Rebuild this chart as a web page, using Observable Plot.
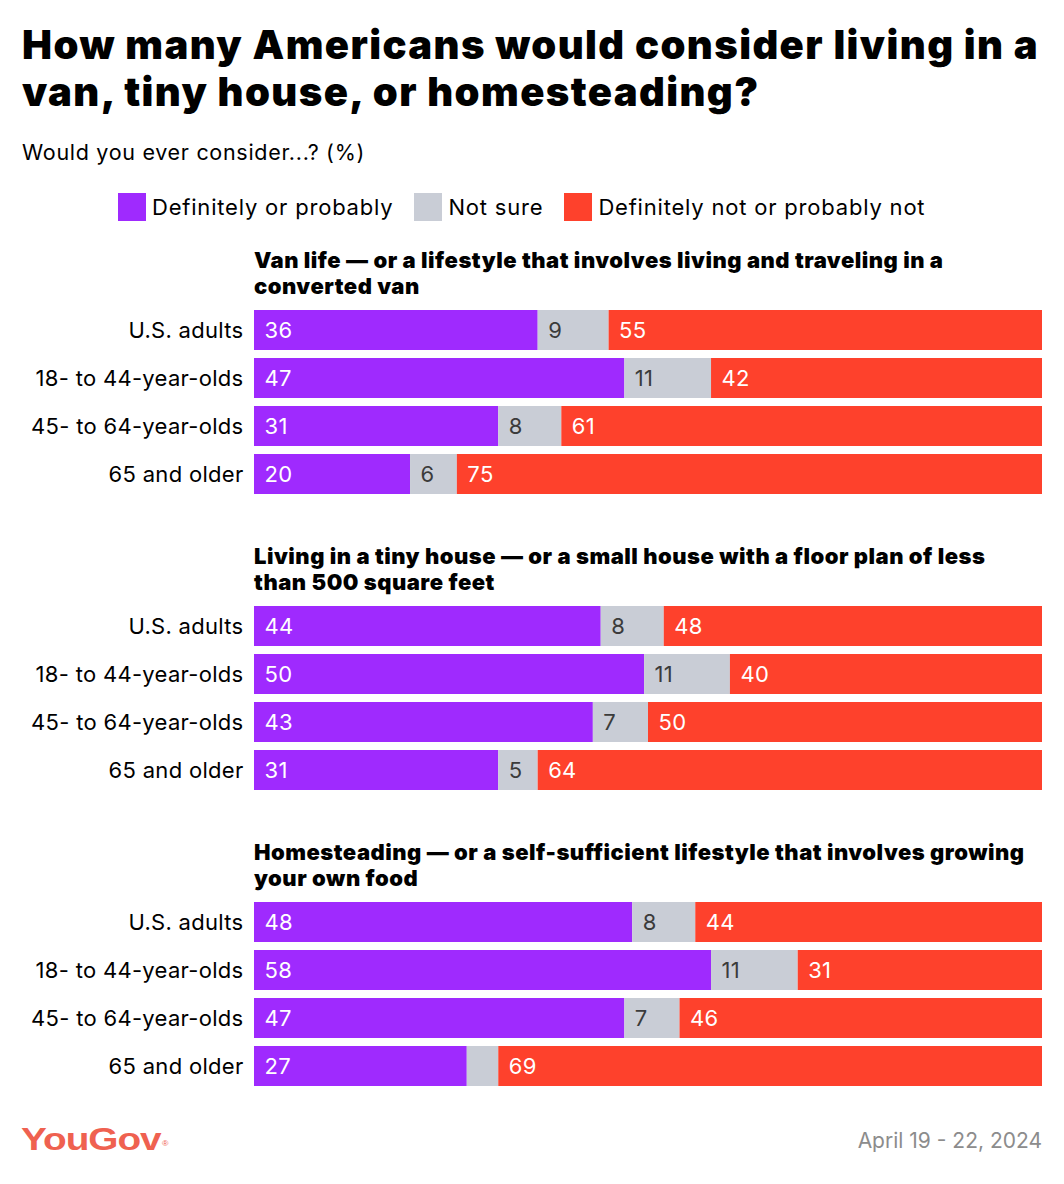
<!DOCTYPE html>
<html><head><meta charset="utf-8">
<script src="https://cdn.jsdelivr.net/npm/d3@7"></script>
<script src="https://cdn.jsdelivr.net/npm/@observablehq/plot@0.6"></script>
<style>
body{margin:0;background:#fff;font-family:Inter,"Noto Sans",sans-serif;color:#000;}
#root{position:relative;width:1064px;height:1184px;overflow:hidden;background:#fff;}
.abs{position:absolute;white-space:pre;}
</style></head><body><div id="root"></div>
<script>
const titleLines = ["How many Americans would consider living in a", "van, tiny house, or homesteading?"];
const subtitle = "Would you ever consider...? (%)";
const responses = ["Definitely or probably", "Not sure", "Definitely not or probably not"];
const colors = ["#9f2afe", "#c9cdd6", "#fe412c"];
const groups = ["U.S. adults", "18- to 44-year-olds", "45- to 64-year-olds", "65 and older"];
const topics = [
  "Van life — or a lifestyle that involves living and traveling in a\nconverted van",
  "Living in a tiny house — or a small house with a floor plan of less\nthan 500 square feet",
  "Homesteading — or a self-sufficient lifestyle that involves growing\nyour own food"
];
// values per topic, per group
const definitely    = [[36, 47, 31, 20], [44, 50, 43, 31], [48, 58, 47, 27]];
const notSure       = [[9, 11, 8, 6],    [8, 11, 7, 5],    [8, 11, 7, 4]];
const definitelyNot = [[55, 42, 61, 75], [48, 40, 50, 64], [44, 31, 46, 69]];
const source = "YouGov";
const dateText = "April 19 - 22, 2024";

const root = document.getElementById("root");
function addDiv(text, css) {
  const d = document.createElement("div");
  d.className = "abs";
  d.textContent = text;
  Object.assign(d.style, css);
  root.appendChild(d);
  return d;
}

// Title
titleLines.forEach((t, i) => addDiv(t, {left: "22px", top: (21 + i * 47) + "px", fontSize: "40px", fontWeight: "900", lineHeight: "47px", letterSpacing: "1.4px"}));
addDiv(subtitle, {left: "22px", top: "139px", fontSize: "21.5px", lineHeight: "26px", letterSpacing: "0.7px"});

// Legend
const leg = document.createElement("div");
Object.assign(leg.style, {position: "absolute", left: "118px", top: "193px", display: "flex", alignItems: "center", fontSize: "22px", lineHeight: "28px", letterSpacing: "0.8px", whiteSpace: "pre"});
responses.forEach((r, i) => {
  const sw = document.createElement("span");
  Object.assign(sw.style, {display: "inline-block", width: "28px", height: "28px", background: colors[i], marginRight: "6px", marginLeft: i ? "21px" : "0"});
  const tx = document.createElement("span");
  tx.textContent = r;
  leg.appendChild(sw); leg.appendChild(tx);
});
root.appendChild(leg);

const barTops = [310, 606, 902];
const seriesArrays = [definitely, notSure, definitelyNot];

topics.forEach((topic, ti) => {
  addDiv(topic, {left: "254px", top: (barTops[ti] - 63) + "px", fontSize: "22px", fontWeight: "900", lineHeight: "26px", letterSpacing: "0.5px"});
  const data = [];
  groups.forEach((g, gi) => responses.forEach((r, ri) => data.push({group: g, response: r, value: seriesArrays[ri][ti][gi]})));
  const stackOpts = {x: "value", y: "group", z: "response", order: responses, offset: "normalize"};
  const chart = Plot.plot({
    width: 1064, height: 184,
    marginLeft: 254, marginRight: 22, marginTop: 0, marginBottom: 0,
    style: {fontFamily: "Inter, 'Noto Sans', sans-serif", fontSize: "22px", background: "transparent", letterSpacing: "0.3px"},
    x: {axis: null, domain: [0, 1]},
    y: {domain: groups, paddingInner: 8 / 48, paddingOuter: 0, label: null},
    color: {domain: responses, range: colors},
    marks: [
      Plot.barX(data, Plot.stackX({...stackOpts, fill: "response"})),
      Plot.text(data, Plot.stackX1({...stackOpts,
        text: d => (d.response !== "Not sure" && d.value >= 5) ? String(d.value) : null,
        fill: "white", textAnchor: "start", dx: 10, fontSize: 22})),
      Plot.text(data, Plot.stackX1({...stackOpts,
        text: d => (d.response === "Not sure" && d.value >= 5) ? String(d.value) : null,
        fill: "#3b3b3b", textAnchor: "start", dx: 10, fontSize: 22})),
      Plot.axisY({tickSize: 0, tickPadding: 11, fontSize: 22, label: null, fill: "#000"})
    ]
  });
  chart.style.position = "absolute";
  chart.style.left = "0px";
  chart.style.top = barTops[ti] + "px";
  root.appendChild(chart);
});

// Footer
const logo = addDiv(source, {left: "21px", top: "1122px", fontSize: "31px", fontWeight: "700", color: "#ef6150", letterSpacing: "-0.8px", fontFamily: "'Liberation Sans', Arial, sans-serif", lineHeight: "36px", transform: "scaleX(1.25)", transformOrigin: "left center"});
const reg = document.createElement("span");
reg.textContent = "®";
Object.assign(reg.style, {fontSize: "7px", letterSpacing: "0", verticalAlign: "top", position: "relative", top: "4px", left: "1px", fontWeight: "400"});
logo.appendChild(reg);
addDiv(dateText, {right: "22px", top: "1128px", fontSize: "21px", color: "#8c8c8c", lineHeight: "26px"});
</script></body></html>
